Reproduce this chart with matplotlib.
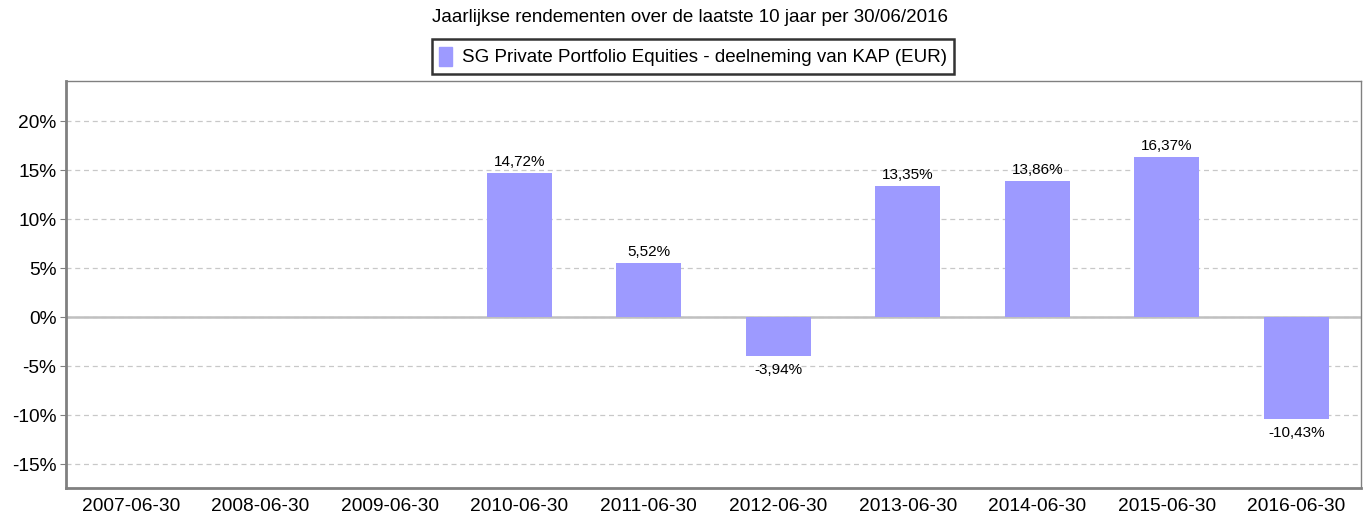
import matplotlib
matplotlib.use("Agg")
import matplotlib.pyplot as plt
import numpy as np
from matplotlib.patches import Patch

plt.rcParams['font.family'] = ['Liberation Sans', 'DejaVu Sans']

categories = ["2007-06-30", "2008-06-30", "2009-06-30", "2010-06-30", "2011-06-30",
              "2012-06-30", "2013-06-30", "2014-06-30", "2015-06-30", "2016-06-30"]
values = [None, None, None, 14.72, 5.52, -3.94, 13.35, 13.86, 16.37, -10.43]
yticks = [-15, -10, -5, 0, 5, 10, 15, 20]
series_name = "SG Private Portfolio Equities - deelneming van KAP (EUR)"
title = "Jaarlijkse rendementen over de laatste 10 jaar per 30/06/2016"
bar_color = "#9d9aff"

W, H = 1365, 517
fig = plt.figure(figsize=(W / 100, H / 100), dpi=100)
ax = fig.add_axes([66 / W, 1 - 488 / H, (1361 - 66) / W, (488 - 81) / H])

x = np.arange(len(categories))
ax.set_xlim(-0.5, len(categories) - 0.5)
ax.set_ylim(-17.45, 24.1)

ax.set_yticks(yticks)
ax.set_yticklabels([f"{t}%" for t in yticks], fontsize=13.8)
ax.yaxis.grid(True, linestyle=(0, (4, 3)), color="#c8c8c8", linewidth=0.9)
ax.set_axisbelow(True)
ax.axhline(0, color="#c0c0c0", linewidth=1.8, zorder=1)

for i, v in enumerate(values):
    if v is None:
        continue
    ax.bar(x[i], v, width=0.5, color=bar_color, zorder=2)
    lbl = f"{v:.2f}".replace(".", ",") + "%"
    if v >= 0:
        ax.annotate(lbl, (x[i], v), xytext=(0, 3), textcoords="offset points",
                    ha="center", va="bottom", fontsize=11)
    else:
        ax.annotate(lbl, (x[i], v), xytext=(0, -5), textcoords="offset points",
                    ha="center", va="top", fontsize=11)

ax.set_xticks(x)
ax.set_xticklabels(categories, fontsize=13.8)
ax.tick_params(axis="x", length=0, pad=7)
ax.tick_params(axis="y", length=4, color="#808080", pad=3)

for s in ["left", "bottom"]:
    ax.spines[s].set_color("#808080")
    ax.spines[s].set_linewidth(2)
for s in ["top", "right"]:
    ax.spines[s].set_color("#808080")
    ax.spines[s].set_linewidth(1)

fig.text(690 / W, 1 - 18 / H, title, ha="center", va="center", fontsize=13.5)

leg = fig.legend(handles=[Patch(color=bar_color, label=series_name)],
                 loc="center", bbox_to_anchor=(693 / W, 1 - 56.5 / H),
                 fontsize=13.5, frameon=True, fancybox=False,
                 handlelength=0.7, handleheight=1.2, handletextpad=0.5,
                 borderpad=0.4, borderaxespad=0)
leg.get_frame().set_edgecolor("black")
leg.get_frame().set_linewidth(1.8)

fig.savefig("out.png", dpi=100)
